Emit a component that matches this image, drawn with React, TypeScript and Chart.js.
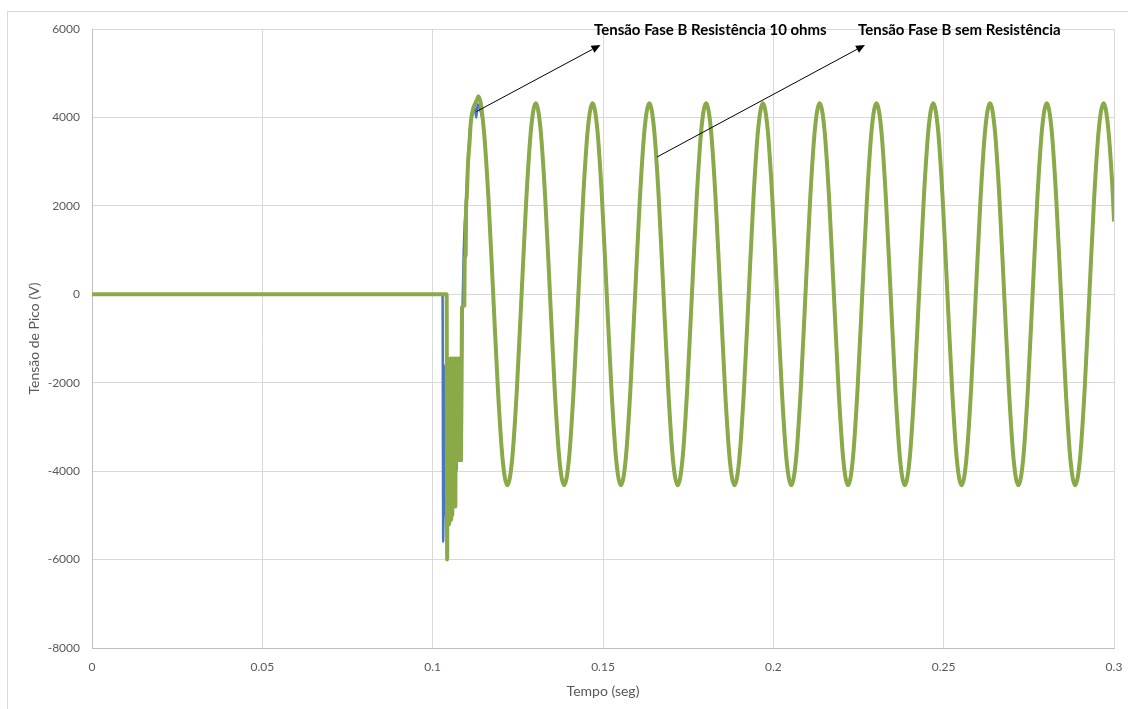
import React, { useEffect, useRef } from "react";
import { Chart, registerables } from "chart.js";

Chart.register(...registerables);

// ---- Data ----
// Transient part (before steady state), series "Tensão Fase B Resistência 10 ohms" (blue)
const blueTransientTime = [
  0, 0.1029, 0.1031, 0.1033, 0.1035, 0.1037, 0.104, 0.1043, 0.1046, 0.1049,
  0.1052, 0.1055, 0.1058, 0.1061, 0.1064, 0.1067, 0.107, 0.1073, 0.1076, 0.1079,
  0.1082, 0.1085, 0.1088, 0.1091, 0.1094, 0.1097, 0.1101, 0.1105, 0.1109, 0.1113,
  0.1118, 0.1124, 0.1128, 0.1132, 0.1136,
];
const blueTransientVolt = [
  0, 0, -5600, -1600, -5000, -1800, -5300, -1500, -5100, -1700,
  -5150, -1800, -4800, -1900, -4400, -2000, -4000, -1600, -3600, -1500,
  -2400, -1900, -200, 900, 1600, 1900, 2600, 3200, 3700, 3900,
  4100, 4200, 4000, 4300, 4250,
];

// Transient part, series "Tensão Fase B sem Resistência" (green)
const greenTransientTime = [
  0, 0.1041, 0.10425, 0.1044, 0.10455, 0.1047, 0.10485, 0.105, 0.10515, 0.1053,
  0.10545, 0.1056, 0.10575, 0.1059, 0.10605, 0.1062, 0.10635, 0.1065, 0.10665, 0.1068,
  0.10695, 0.1071, 0.10725, 0.1074, 0.10755, 0.1077, 0.1079, 0.1081, 0.1083, 0.1085,
  0.1086, 0.1093, 0.1094, 0.1097, 0.1098, 0.11, 0.1104, 0.1108, 0.1112, 0.1119,
  0.1124, 0.113, 0.11345,
];
const greenTransientVolt = [
  0, 0, -6000, -1450, -5100, -1500, -5200, -1850, -4900, -1450,
  -5100, -1500, -5000, -1450, -4600, -1500, -4200, -1450, -4800, -1500,
  -3800, -1450, -3750, -1500, -3750, -1450, -3750, -1500, -3750, -1900,
  -300, -250, 800, 900, 1900, 2200, 3000, 3400, 3900, 4200,
  4300, 4400, 4480,
];

// Steady-state 60 Hz oscillation (both series overlap)
const steadyTime = [
  0.11499, 0.11638, 0.11777, 0.11916, 0.12054, 0.12193, 0.12332, 0.12471, 0.1261, 0.12749, 0.12888,
  0.13027, 0.13166, 0.13305, 0.13444, 0.13583, 0.13721, 0.1386, 0.13999, 0.14138, 0.14277, 0.14416, 0.14555,
  0.14693, 0.14832, 0.14971, 0.1511, 0.15249, 0.15387, 0.15526, 0.15665, 0.15804, 0.15943, 0.16082, 0.16221,
  0.1636, 0.16499, 0.16638, 0.16777, 0.16916, 0.17054, 0.17193, 0.17332, 0.17471, 0.1761, 0.17749, 0.17888,
  0.18027, 0.18166, 0.18305, 0.18444, 0.18583, 0.18721, 0.1886, 0.18999, 0.19138, 0.19277, 0.19416, 0.19555,
  0.19693, 0.19832, 0.19971, 0.2011, 0.20249, 0.20387, 0.20526, 0.20665, 0.20804, 0.20943, 0.21082, 0.21221,
  0.2136, 0.21499, 0.21638, 0.21777, 0.21916, 0.22054, 0.22193, 0.22332, 0.22471, 0.2261, 0.22749, 0.22888,
  0.23027, 0.23166, 0.23305, 0.23444, 0.23583, 0.23721, 0.2386, 0.23999, 0.24138, 0.24277, 0.24416, 0.24555,
  0.24693, 0.24832, 0.24971, 0.2511, 0.25249, 0.25387, 0.25526, 0.25665, 0.25804, 0.25943, 0.26082, 0.26221,
  0.2636, 0.26499, 0.26638, 0.26777, 0.26916, 0.27054, 0.27193, 0.27332, 0.27471, 0.2761, 0.27749, 0.27888,
  0.28027, 0.28166, 0.28305, 0.28444, 0.28583, 0.28721, 0.2886, 0.28999, 0.29138, 0.29277, 0.29416, 0.29555,
  0.29693, 0.29832, 0.29971, 0.3,
];
const steadyVolt = [
  3741, 2160, 0, -2160, -3741, -4320, -3741, -2160, 0, 2160, 3741,
  4320, 3741, 2160, 0, -2160, -3741, -4320, -3741, -2160, 0, 2160, 3741,
  4320, 3741, 2160, 0, -2160, -3741, -4320, -3741, -2160, 0, 2160, 3741,
  4320, 3741, 2160, 0, -2160, -3741, -4320, -3741, -2160, 0, 2160, 3741,
  4320, 3741, 2160, 0, -2160, -3741, -4320, -3741, -2160, 0, 2160, 3741,
  4320, 3741, 2160, 0, -2160, -3741, -4320, -3741, -2160, 0, 2160, 3741,
  4320, 3741, 2160, 0, -2160, -3741, -4320, -3741, -2160, 0, 2160, 3741,
  4320, 3741, 2160, 0, -2160, -3741, -4320, -3741, -2160, 0, 2160, 3741,
  4320, 3741, 2160, 0, -2160, -3741, -4320, -3741, -2160, 0, 2160, 3741,
  4320, 3741, 2160, 0, -2160, -3741, -4320, -3741, -2160, 0, 2160, 3741,
  4320, 3741, 2160, 0, -2160, -3741, -4320, -3741, -2160, 0, 2160, 3741,
  4320, 3741, 2160, 1650,
];

const seriesNames = ["Tensão Fase B sem Resistência", "Tensão Fase B Resistência 10 ohms"];

// Annotations (data coordinates): label, text anchor, arrow start, arrow tip
const annotLabels = ["Tensão Fase B Resistência 10 ohms", "Tensão Fase B sem Resistência"];
const annotTextX = [0.14736, 0.22485];
const annotTextY = [5966, 5966];
const annotFromX = [0.11287, 0.16585];
const annotFromY = [4134, 3105];
const annotToX = [0.14927, 0.22691];
const annotToY = [5638, 5638];

const xTicks = [0, 0.05, 0.1, 0.15, 0.2, 0.25, 0.3];
const yTicks = [-8000, -6000, -4000, -2000, 0, 2000, 4000, 6000];

const FONT = "Lato, 'Open Sans', sans-serif";

const toPoints = (ts: number[], vs: number[]) => ts.map((t, i) => ({ x: t, y: vs[i] }));

const annotationPlugin = {
  id: "arrowAnnotations",
  afterDatasetsDraw(chart: any) {
    const { ctx, scales } = chart;
    const xs = scales.x;
    const ys = scales.y;
    ctx.save();
    for (let i = 0; i < annotLabels.length; i++) {
      const x1 = xs.getPixelForValue(annotFromX[i]);
      const y1 = ys.getPixelForValue(annotFromY[i]);
      const x2 = xs.getPixelForValue(annotToX[i]);
      const y2 = ys.getPixelForValue(annotToY[i]);
      const ang = Math.atan2(y2 - y1, x2 - x1);
      const head = 9;
      const half = 4;
      const bx = x2 - head * Math.cos(ang);
      const by = y2 - head * Math.sin(ang);
      ctx.strokeStyle = "#000";
      ctx.fillStyle = "#000";
      ctx.lineWidth = 1;
      ctx.beginPath();
      ctx.moveTo(x1, y1);
      ctx.lineTo(bx, by);
      ctx.stroke();
      ctx.beginPath();
      ctx.moveTo(x2, y2);
      ctx.lineTo(bx + half * Math.sin(ang), by - half * Math.cos(ang));
      ctx.lineTo(bx - half * Math.sin(ang), by + half * Math.cos(ang));
      ctx.closePath();
      ctx.fill();

      ctx.font = `bold 15px ${FONT}`;
      ctx.textAlign = "left";
      ctx.textBaseline = "middle";
      ctx.fillText(annotLabels[i], xs.getPixelForValue(annotTextX[i]), ys.getPixelForValue(annotTextY[i]));
    }
    ctx.restore();
  },
};

function App() {
  const canvasRef = useRef<HTMLCanvasElement | null>(null);

  useEffect(() => {
    if (!canvasRef.current) return;
    const green = toPoints([...greenTransientTime, ...steadyTime], [...greenTransientVolt, ...steadyVolt]);
    const blue = toPoints([...blueTransientTime, ...steadyTime], [...blueTransientVolt, ...steadyVolt]);
    const chart = new Chart(canvasRef.current, {
      type: "line",
      data: {
        datasets: [
          {
            label: seriesNames[0],
            data: green,
            borderColor: "#8AAA4A",
            borderWidth: 4,
            pointRadius: 0,
            cubicInterpolationMode: "monotone",
            fill: false,
          },
          {
            label: seriesNames[1],
            data: blue,
            borderColor: "#4A76BD",
            borderWidth: 2.5,
            pointRadius: 0,
            cubicInterpolationMode: "monotone",
            fill: false,
          },
        ],
      },
      options: {
        animation: false,
        responsive: false,
        devicePixelRatio: 1,
        layout: { padding: { top: 29, right: 14, left: 0, bottom: 0 } },
        plugins: { legend: { display: false }, tooltip: { enabled: false } },
        scales: {
          x: {
            type: "linear",
            min: 0,
            max: 0.3,
            afterBuildTicks: (axis: any) => {
              axis.ticks = xTicks.map((v) => ({ value: v }));
            },
            afterFit: (axis: any) => {
              axis.height = 61;
              axis.paddingLeft = 0;
              axis.paddingRight = 0;
            },
            ticks: {
              padding: 12,
              color: "#595959",
              font: { family: FONT, size: 12 },
              maxRotation: 0,
              callback: (v: any) => String(parseFloat(Number(v).toFixed(2))),
            },
            grid: { color: "#d9d9d9", drawTicks: false, lineWidth: 1 },
            border: { color: "#bfbfbf", width: 1 },
            title: {
              display: true,
              text: "Tempo (seg)",
              color: "#595959",
              font: { family: FONT, size: 14 },
              padding: { top: 0, bottom: 9 },
            },
          },
          y: {
            type: "linear",
            min: -8000,
            max: 6000,
            afterBuildTicks: (axis: any) => {
              axis.ticks = yTicks.map((v) => ({ value: v }));
            },
            afterFit: (axis: any) => {
              axis.width = 92;
              axis.paddingTop = 0;
              axis.paddingBottom = 0;
            },
            ticks: {
              padding: 12,
              color: "#595959",
              font: { family: FONT, size: 12 },
              callback: (v: any) => String(v),
            },
            grid: { color: "#d9d9d9", drawTicks: false, lineWidth: 1 },
            border: { color: "#bfbfbf", width: 1 },
            title: {
              display: true,
              text: "Tensão de Pico (V)",
              color: "#595959",
              font: { family: FONT, size: 14 },
              padding: { top: 26, bottom: 0 },
            },
          },
        },
      },
      plugins: [annotationPlugin],
    } as any);
    return () => chart.destroy();
  }, []);

  return (
    <div
      style={{
        position: "absolute",
        left: 0,
        top: 0,
        width: 1128,
        height: 709,
        overflow: "hidden",
        background: "#fff",
      }}
    >
      <div
        style={{
          position: "absolute",
          left: 7,
          top: 11,
          width: 1140,
          height: 720,
          border: "1px solid #d9d9d9",
        }}
      />
      <canvas
        ref={canvasRef}
        width={1128}
        height={709}
        style={{ position: "absolute", left: 0, top: 0, width: 1128, height: 709 }}
      />
    </div>
  );
}

export default App;
